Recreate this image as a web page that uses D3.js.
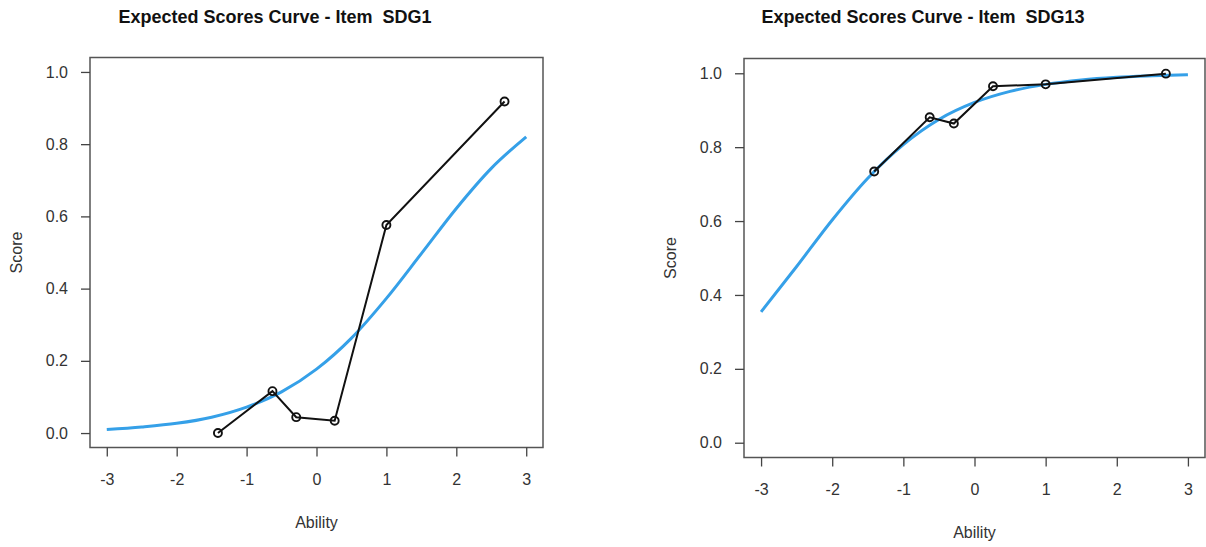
<!DOCTYPE html>
<html>
<head>
<meta charset="utf-8">
<script src="https://cdn.jsdelivr.net/npm/d3@7"></script>
<style>
  body { margin: 0; background: #fff; }
  svg { display: block; font-family: "Liberation Sans", Arial, sans-serif; }
  .tick text { fill: #333; font-size: 16px; }
  .tick line { stroke: #444; stroke-width: 1.3; }
</style>
</head>
<body>
<div id="chart"></div>
<script>
// observed ability groups (same in both panels)
const ability = [-1.41, -0.63, -0.29, 0.26, 1.0, 2.69];
// observed mean scores
const obsSDG1 = [0.0, 0.116, 0.044, 0.034, 0.576, 0.918];
const obsSDG13 = [0.734, 0.881, 0.864, 0.965, 0.970, 0.999];
// expected score curve
const thetaGrid = [-3, -2.5, -2, -1.5, -1, -0.5, 0, 0.5, 1, 1.5, 2, 2.5, 3];
const curveSDG1 = [0.010, 0.017, 0.027, 0.044, 0.072, 0.114, 0.177, 0.263, 0.373, 0.497, 0.622, 0.733, 0.820];
const curveSDG13 = [0.354, 0.477, 0.603, 0.716, 0.807, 0.875, 0.921, 0.951, 0.970, 0.982, 0.989, 0.993, 0.996];
const xTicks = [-3, -2, -1, 0, 1, 2, 3];
const yTicks = [0, 0.2, 0.4, 0.6, 0.8, 1.0];

const W = 1206, H = 547;
const svg = d3.select('#chart').append('svg')
    .attr('width', W)
    .attr('height', H);

const panels = [
    { title: 'Expected Scores Curve - Item  SDG1', obs: obsSDG1, curve: curveSDG1,
      box: { left: 90, right: 543, top: 57.5, bottom: 447.5 }, titleX: 275 },
    { title: 'Expected Scores Curve - Item  SDG13', obs: obsSDG13, curve: curveSDG13,
      box: { left: 744, right: 1205, top: 58.5, bottom: 457.5 }, titleX: 923 }
];

panels.forEach(p => {
    const b = p.box;
    // R style: 4% padding beyond the data range
    const x = d3.scaleLinear().domain([-3.24, 3.24]).range([b.left, b.right]);
    const y = d3.scaleLinear().domain([-0.04, 1.04]).range([b.bottom, b.top]);

    const g = svg.append('g');

    g.append('rect')
        .attr('x', b.left).attr('y', b.top)
        .attr('width', b.right - b.left).attr('height', b.bottom - b.top)
        .attr('fill', 'none')
        .attr('stroke', '#555')
        .attr('stroke-width', 1.5);

    g.append('g')
        .attr('transform', `translate(0, ${b.bottom})`)
        .call(d3.axisBottom(x).tickValues(xTicks).tickSize(9).tickPadding(17)
            .tickSizeOuter(0).tickFormat(d => String(d)))
        .call(a => a.select('.domain').remove());

    g.append('g')
        .attr('transform', `translate(${b.left}, 0)`)
        .call(d3.axisLeft(y).tickValues(yTicks).tickSize(9).tickPadding(13)
            .tickSizeOuter(0).tickFormat(d3.format('.1f')))
        .call(a => a.select('.domain').remove());

    // expected curve
    const line = d3.line()
        .x(d => x(d[0]))
        .y(d => y(d[1]))
        .curve(d3.curveMonotoneX);
    g.append('path')
        .datum(thetaGrid.map((t, i) => [t, p.curve[i]]))
        .attr('d', line)
        .attr('fill', 'none')
        .attr('stroke', '#35a0e8')
        .attr('stroke-width', 3);

    // observed
    const obsData = ability.map((t, i) => [t, p.obs[i]]);
    g.append('path')
        .datum(obsData)
        .attr('d', d3.line().x(d => x(d[0])).y(d => y(d[1])))
        .attr('fill', 'none')
        .attr('stroke', '#111')
        .attr('stroke-width', 2);
    g.selectAll('circle.obs')
        .data(obsData)
        .enter().append('circle')
        .attr('class', 'obs')
        .attr('cx', d => x(d[0]))
        .attr('cy', d => y(d[1]))
        .attr('r', 4)
        .attr('fill', 'none')
        .attr('stroke', '#111')
        .attr('stroke-width', 1.9);

    // labels
    g.append('text')
        .attr('x', p.titleX).attr('y', 17)
        .attr('dy', '0.35em')
        .attr('text-anchor', 'middle')
        .style('white-space', 'pre')
        .attr('font-size', 18)
        .attr('font-weight', 'bold')
        .attr('fill', '#111')
        .text(p.title);

    g.append('text')
        .attr('x', (x(-3) + x(3)) / 2).attr('y', b.bottom + 75)
        .attr('dy', '0.35em')
        .attr('text-anchor', 'middle')
        .attr('font-size', 16)
        .attr('fill', '#333')
        .text('Ability');

    g.append('text')
        .attr('transform', `translate(${b.left - 74}, ${(y(0) + y(1)) / 2}) rotate(-90)`)
        .attr('dy', '0.35em')
        .attr('text-anchor', 'middle')
        .attr('font-size', 16)
        .attr('fill', '#333')
        .text('Score');
});
</script>
</body>
</html>
